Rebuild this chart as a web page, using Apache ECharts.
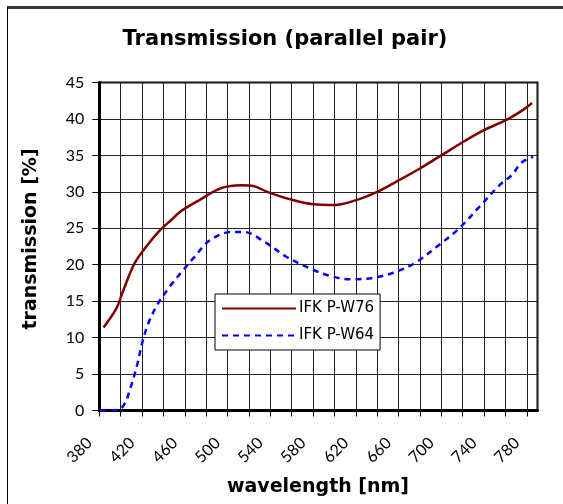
<!DOCTYPE html>
<html>
<head>
<meta charset="utf-8">
<script src="https://cdn.jsdelivr.net/npm/echarts@6/dist/echarts.min.js"></script>
<style>
html,body{margin:0;padding:0;background:#fff;}
#chart{width:563px;height:504px;}
</style>
</head>
<body>
<div id="chart"></div>
<script>
// Wavelength [nm] and transmission [%]
var w76Wavelength = [384, 396, 402, 413, 424, 436, 447, 456, 474, 494, 513, 524, 537, 558, 580, 600, 621, 640, 658, 680, 700, 721, 739, 760, 774, 785];
var w76Values     = [11.4, 14.0, 16.3, 20.2, 22.5, 24.6, 26.1, 27.3, 28.9, 30.5, 30.9, 30.8, 30.0, 29.0, 28.3, 28.2, 28.9, 30.0, 31.4, 33.2, 35.0, 36.9, 38.4, 39.8, 41.0, 42.2];
var w64Wavelength = [381, 398, 404, 408.5, 415, 420, 426, 435, 446, 457, 468, 484, 504, 515, 534, 555, 577, 595, 615, 636, 655, 675, 696, 716, 736, 755, 766, 775, 786];
var w64Values     = [0, 0.1, 1.0, 2.8, 6.0, 9.2, 12.0, 14.7, 17.0, 19.0, 20.9, 23.4, 24.5, 24.5, 23.2, 21.1, 19.5, 18.5, 18.0, 18.2, 18.9, 20.2, 22.5, 24.9, 28.0, 31.0, 32.3, 34.0, 34.8];
var seriesNames = ['IFK P-W76', 'IFK P-W64'];
var xTickLabels = [380, 420, 460, 500, 540, 580, 620, 660, 700, 740, 780];
var yTickLabels = [0, 5, 10, 15, 20, 25, 30, 35, 40, 45];
var titleText = 'Transmission (parallel pair)';
var xTitle = 'wavelength [nm]';
var yTitle = 'transmission [%]';

function pairs(xs, ys) { return xs.map(function (x, i) { return [x, ys[i]]; }); }

var FONT = 'Lato';
var BOLD = 'DejaVu Sans';
var chart = echarts.init(document.getElementById('chart'), null, {renderer: 'canvas'});
chart.setOption({
  backgroundColor: '#fff',
  animation: false,
  graphic: [
    {type: 'line', shape: {x1: 7, y1: 7.5, x2: 563, y2: 7.5}, style: {stroke: '#3a3a3a', lineWidth: 3}},
    {type: 'line', shape: {x1: 7.5, y1: 7, x2: 7.5, y2: 504}, style: {stroke: '#000', lineWidth: 1}},
    {type: 'text', x: 285, y: 40, style: {text: titleText, fontFamily: BOLD, fontWeight: 'bold', fontSize: 21, fill: '#000', align: 'center', verticalAlign: 'middle'}},
    {type: 'text', x: 318, y: 487, style: {text: xTitle, fontFamily: BOLD, fontWeight: 'bold', fontSize: 19, fill: '#000', align: 'center', verticalAlign: 'middle'}},
    {type: 'text', x: 31, y: 239, rotation: Math.PI / 2, style: {text: yTitle, fontFamily: BOLD, fontWeight: 'bold', fontSize: 19, fill: '#000', align: 'center', verticalAlign: 'middle'}}
  ],
  grid: {
    left: 99.3, right: 25.5, top: 82.5, bottom: 93.5,
    show: true, borderColor: '#000', borderWidth: 2, backgroundColor: 'transparent'
  },
  legend: {
    orient: 'vertical', left: 215, top: 294,
    padding: [7, 6, 7, 6], itemGap: 12,
    backgroundColor: '#fff', borderColor: '#000', borderWidth: 1,
    itemWidth: 74, itemHeight: 14,
    itemStyle: {opacity: 0},
    textStyle: {fontFamily: 'DejaVu Sans', fontSize: 15, color: '#000', padding: [0, 6, 0, -2]},
    data: seriesNames
  },
  xAxis: {
    type: 'value', min: 380, max: 790, interval: 20,
    axisLine: {show: true, lineStyle: {color: '#000', width: 3}},
    axisTick: {show: true, length: 6, lineStyle: {color: '#000', width: 1}},
    splitLine: {show: true, lineStyle: {color: '#222', width: 1}},
    axisLabel: {
      rotate: 45, margin: 20, padding: [0, 14, 0, 0], fontFamily: FONT, fontSize: 16, color: '#000',
      showMaxLabel: false,
      formatter: function (v) { return xTickLabels.indexOf(v) >= 0 ? String(v) : ''; }
    }
  },
  yAxis: {
    type: 'value', min: 0, max: 45, interval: 5,
    axisLine: {show: true, lineStyle: {color: '#000', width: 3}},
    axisTick: {show: true, length: 7, lineStyle: {color: '#000', width: 1}},
    splitLine: {show: true, lineStyle: {color: '#222', width: 1}},
    axisLabel: {
      margin: 15, fontFamily: FONT, fontSize: 16, color: '#000',
      formatter: function (v) { return yTickLabels.indexOf(v) >= 0 ? String(v) : ''; }
    }
  },
  series: [{
    name: seriesNames[0], type: 'line', data: pairs(w76Wavelength, w76Values),
    smooth: 0.35, showSymbol: false, symbol: 'none',
    lineStyle: {color: '#800000', width: 2.5}, itemStyle: {color: '#800000'}
  }, {
    name: seriesNames[1], type: 'line', data: pairs(w64Wavelength, w64Values),
    smooth: 0.35, showSymbol: false, symbol: 'none',
    lineStyle: {color: '#0000ff', width: 2.5, type: [6, 5]}, itemStyle: {color: '#0000ff'}
  }]
});
</script>
</body>
</html>
